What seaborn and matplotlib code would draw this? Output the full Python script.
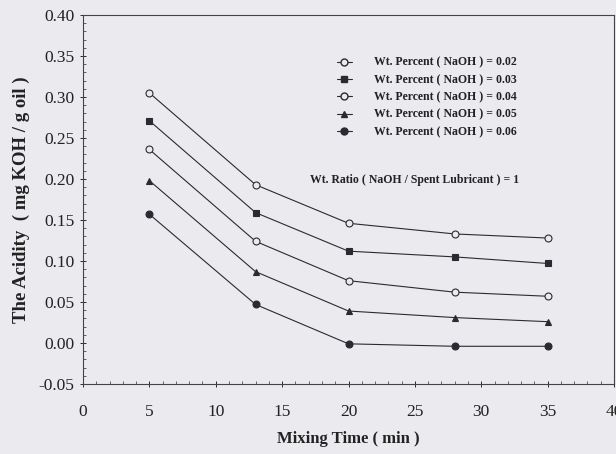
import numpy as np
import pandas as pd
import matplotlib
matplotlib.use("Agg")
import matplotlib.pyplot as plt
import seaborn as sns
from matplotlib.lines import Line2D
from matplotlib.ticker import MultipleLocator, FormatStrFormatter

# ---- data ----
mixing_time = [5, 13, 20, 28, 35]
naoh_labels = ["0.02", "0.03", "0.04", "0.05", "0.06"]
acid_002 = [0.305, 0.193, 0.146, 0.133, 0.128]
acid_003 = [0.271, 0.159, 0.112, 0.105, 0.097]
acid_004 = [0.236, 0.124, 0.076, 0.062, 0.057]
acid_005 = [0.198, 0.087, 0.039, 0.031, 0.026]
acid_006 = [0.157, 0.047, -0.001, -0.004, -0.004]
series = [acid_002, acid_003, acid_004, acid_005, acid_006]

rows = []
for lab, vals in zip(naoh_labels, series):
    for t, v in zip(mixing_time, vals):
        rows.append({"time": t, "acidity": v, "naoh": lab})
df = pd.DataFrame(rows)

sns.set_theme(style="ticks")
plt.rcParams["font.family"] = ["Liberation Serif", "DejaVu Serif"]

bg = "#ebebef"
fig = plt.figure(figsize=(6.16, 4.54), dpi=100, facecolor=bg)
ax = fig.add_axes([83/616, 1-384/454, (614-83)/616, (384-15)/454])
ax.set_facecolor(bg)

markers = {"0.02": "o", "0.03": "s", "0.04": "o", "0.05": "^", "0.06": "o"}
ink = "#2a2a30"
sns.lineplot(data=df, x="time", y="acidity", hue="naoh", style="naoh",
             markers=markers, dashes=False, palette=[ink]*5, linewidth=0.8,
             markersize=5, legend=False, ax=ax, estimator=None, sort=False)

# restyle markers (open vs filled)
open_series = {"0.02", "0.04"}
for line, lab in zip(ax.lines, naoh_labels):
    line.set_markeredgecolor(ink)
    line.set_markeredgewidth(0.8)
    if lab in open_series:
        line.set_markerfacecolor(bg)
    else:
        line.set_markerfacecolor(ink)
    if lab == "0.05":
        line.set_markersize(4.5)

ax.set_xlim(0, 40)
ax.set_ylim(-0.05, 0.40)
ax.xaxis.set_major_locator(MultipleLocator(5))
ax.xaxis.set_minor_locator(MultipleLocator(1))
ax.yaxis.set_major_locator(MultipleLocator(0.05))
ax.yaxis.set_minor_locator(MultipleLocator(0.01))
ax.yaxis.set_major_formatter(FormatStrFormatter("%.2f"))
ax.tick_params(which="major", direction="inout", length=5, width=0.7,
               colors=ink, labelsize=12.5, labelcolor="#222")
ax.tick_params(which="minor", direction="in", length=2, width=0.5, colors=ink)
ax.tick_params(axis="x", pad=12)
for s in ax.spines.values():
    s.set_color("#444")
    s.set_linewidth(0.8)

ax.set_xlabel("Mixing Time ( min )", fontsize=12, fontweight="bold", color="#222", labelpad=8)
ax.set_ylabel("The Acidity  ( mg KOH / g oil )", fontsize=13.5, fontweight="bold", color="#222", labelpad=6)

handles = []
for lab in naoh_labels:
    fc = bg if lab in open_series else ink
    handles.append(Line2D([0], [0], color=ink, lw=0.8, marker=markers[lab],
                          markersize=5, markerfacecolor=fc, markeredgecolor=ink))
leg = ax.legend(handles, [f"Wt. Percent ( NaOH ) = {l}" for l in naoh_labels],
                loc="upper left", bbox_to_anchor=((332-83)/531, 1-(52-15)/369),
                frameon=False, fontsize=8.5, handlelength=1.3, handletextpad=1.9,
                labelspacing=0.45, borderaxespad=0)
for t in leg.get_texts():
    t.set_fontweight("bold")
    t.set_color("#222")

fig.text(310/616, 1-180/454, "Wt. Ratio ( NaOH / Spent Lubricant ) = 1",
         fontsize=8.5, fontweight="bold", color="#222", va="center", ha="left")

fig.savefig("out.png", dpi=100, facecolor=bg)
